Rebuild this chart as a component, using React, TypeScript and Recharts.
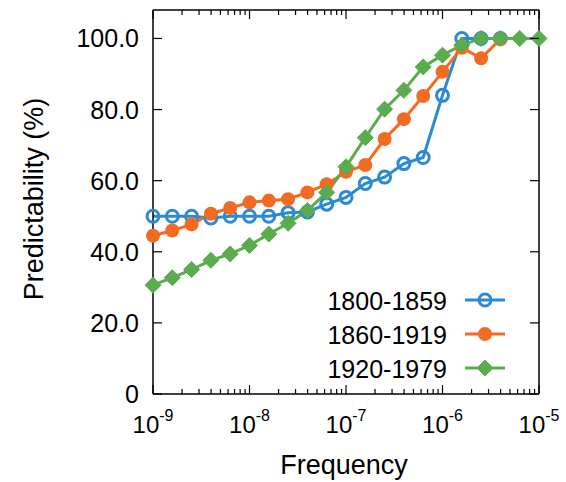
import React from 'react';
import { LineChart, Line, XAxis, YAxis } from 'recharts';

// x positions: five per decade, 1e-9 .. 1e-5
const frequency = [
  1e-9, 1.585e-9, 2.512e-9, 3.981e-9, 6.31e-9,
  1e-8, 1.585e-8, 2.512e-8, 3.981e-8, 6.31e-8,
  1e-7, 1.585e-7, 2.512e-7, 3.981e-7, 6.31e-7,
  1e-6, 1.585e-6, 2.512e-6, 3.981e-6, 6.31e-6,
  1e-5,
];

const p1800 = [50, 50, 50, 49.5, 50, 50, 50, 51, 51.2, 53.4, 55.3, 59.2, 61, 64.8, 66.5, 84, 100, 100, 100];
const p1860 = [44.5, 46, 47.7, 50.7, 52.3, 53.9, 54.4, 54.8, 56.7, 59, 62.5, 64.4, 71.7, 77.3, 83.8, 90.6, 97.4, 94.4, 99.8];
const p1920 = [30.6, 32.7, 35, 37.6, 39.4, 41.8, 45, 48, 51.6, 56.7, 63.9, 72.1, 80.1, 85.4, 92, 95.3, 98.1, 100, 100, 100, 100];

const seriesNames = ['1800-1859', '1860-1919', '1920-1979'];
const seriesColors = ['#2b8ad3', '#f26b23', '#5aac4e'];

const yTicks = [0, 20, 40, 60, 80, 100];
const decades = [1e-9, 1e-8, 1e-7, 1e-6, 1e-5];
const minorSteps = [2, 3, 4, 5, 6, 7, 8, 9];

const xTicks = [
  ...decades,
  ...decades.slice(0, -1).flatMap((d) => minorSteps.map((m) => m * d)),
].sort((a, b) => a - b);

const data = frequency.map((f, i) => ({
  f,
  a: p1800[i],
  b: p1860[i],
  c: p1920[i],
}));

const FONT = '"Liberation Sans", Arial, Helvetica, sans-serif';

const isMajor = (v: number) => {
  const l = Math.log10(v);
  return Math.abs(l - Math.round(l)) < 1e-6;
};

const BottomTick = (props: any) => {
  const { x, y, payload } = props;
  const v = payload.value;
  const major = isMajor(v);
  const e = Math.round(Math.log10(v));
  return (
    <g>
      <line x1={x} x2={x} y1={y} y2={y - (major ? 9 : 5)} stroke="#000" strokeWidth={1.2} />
      {major && (
        <text x={x} y={y + 39} textAnchor="middle" fontSize={24} fontFamily={FONT} fill="#000">
          <tspan>10</tspan>
          <tspan dy={-12} fontSize={16}>{String(e)}</tspan>
        </text>
      )}
    </g>
  );
};

const TopTick = (props: any) => {
  const { x, y, payload } = props;
  const major = isMajor(payload.value);
  return <line x1={x} x2={x} y1={y} y2={y + (major ? 9 : 5)} stroke="#000" strokeWidth={1.2} />;
};

const LeftTick = (props: any) => {
  const { x, y, payload } = props;
  const v = payload.value;
  return (
    <g>
      <line x1={x} x2={x + 9} y1={y} y2={y} stroke="#000" strokeWidth={1.2} />
      <text x={x - 14} y={y + 9} textAnchor="end" fontSize={25} fontFamily={FONT} fill="#000">
        {v === 0 ? '0' : v.toFixed(1)}
      </text>
    </g>
  );
};

const RightTick = (props: any) => {
  const { x, y } = props;
  return <line x1={x} x2={x - 9} y1={y} y2={y} stroke="#000" strokeWidth={1.2} />;
};

const marker = (kind: number, cx: number, cy: number, color: string) => {
  if (kind === 0) return <circle cx={cx} cy={cy} r={6} fill="none" stroke={color} strokeWidth={3} />;
  if (kind === 1) return <circle cx={cx} cy={cy} r={7} fill={color} />;
  return (
    <path
      d={`M${cx},${cy - 8}L${cx + 8},${cy}L${cx},${cy + 8}L${cx - 8},${cy}Z`}
      fill={color}
      stroke={color}
      strokeWidth={1}
    />
  );
};

const makeDot = (kind: number) => (props: any) => {
  const { cx, cy, index, value } = props;
  if (cx == null || cy == null || value == null) return <g key={`e-${kind}-${index}`} />;
  return <g key={`d-${kind}-${index}`}>{marker(kind, cx, cy, seriesColors[kind])}</g>;
};

const axisLine = { stroke: '#000', strokeWidth: 1.5 };

export default function App() {
  const legendRows = [310, 344, 378];
  return (
    <div style={{ position: 'absolute', left: 0, top: 0, width: 566, height: 482, background: '#fff' }}>
      <LineChart
        width={566}
        height={482}
        data={data}
        margin={{ top: 9, right: 26, bottom: 0, left: 0 }}
      >
        <XAxis
          xAxisId="bottom"
          dataKey="f"
          type="number"
          scale="log"
          domain={[1e-9, 1e-5]}
          ticks={xTicks}
          interval={0}
          height={88}
          tickSize={0}
          tickMargin={0}
          axisLine={axisLine}
          tickLine={false}
          tick={<BottomTick />}
        />
        <XAxis
          xAxisId="top"
          dataKey="f"
          type="number"
          scale="log"
          orientation="top"
          domain={[1e-9, 1e-5]}
          ticks={xTicks}
          interval={0}
          height={1}
          tickSize={0}
          tickMargin={0}
          axisLine={axisLine}
          tickLine={false}
          tick={<TopTick />}
        />
        <YAxis
          yAxisId="left"
          type="number"
          domain={[0, 108]}
          ticks={yTicks}
          interval={0}
          width={153}
          tickSize={0}
          tickMargin={0}
          axisLine={axisLine}
          tickLine={false}
          tick={<LeftTick />}
        />
        <YAxis
          yAxisId="right"
          orientation="right"
          type="number"
          domain={[0, 108]}
          ticks={yTicks}
          interval={0}
          width={1}
          tickSize={0}
          tickMargin={0}
          axisLine={axisLine}
          tickLine={false}
          tick={<RightTick />}
        />
        <Line
          xAxisId="bottom"
          yAxisId="left"
          dataKey="a"
          name={seriesNames[0]}
          stroke={seriesColors[0]}
          strokeWidth={3}
          dot={makeDot(0)}
          isAnimationActive={false}
        />
        <Line
          xAxisId="bottom"
          yAxisId="left"
          dataKey="b"
          name={seriesNames[1]}
          stroke={seriesColors[1]}
          strokeWidth={3}
          dot={makeDot(1)}
          isAnimationActive={false}
        />
        <Line
          xAxisId="top"
          yAxisId="right"
          dataKey="c"
          name={seriesNames[2]}
          stroke={seriesColors[2]}
          strokeWidth={3}
          dot={makeDot(2)}
          isAnimationActive={false}
        />
      </LineChart>
      <svg
        width={566}
        height={482}
        style={{ position: 'absolute', left: 0, top: 0, pointerEvents: 'none' }}
      >
        <text
          transform="translate(43,199) rotate(-90)"
          textAnchor="middle"
          fontSize={27}
          fontFamily={FONT}
          fill="#000"
        >
          Predictability (%)
        </text>
        <text x={344} y={474} textAnchor="middle" fontSize={27} fontFamily={FONT} fill="#000">
          Frequency
        </text>
        {seriesNames.map((name, i) => {
          const base = legendRows[i];
          const cy = base - 10;
          return (
            <g key={name}>
              <text x={447} y={base} textAnchor="end" fontSize={25} fontFamily={FONT} fill="#000">
                {name}
              </text>
              <line x1={465} x2={505} y1={cy} y2={cy} stroke={seriesColors[i]} strokeWidth={3} />
              {marker(i, 485, cy, seriesColors[i])}
            </g>
          );
        })}
      </svg>
    </div>
  );
}
